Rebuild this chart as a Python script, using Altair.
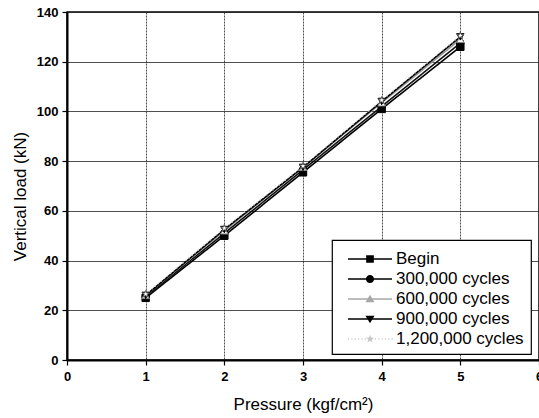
import math
import altair as alt
import pandas as pd

# Vertical load measured at each tyre pressure, after increasing numbers of cycles
pressure = [1, 2, 3, 4, 5]
series_names = ["Begin", "300,000 cycles", "600,000 cycles", "900,000 cycles", "1,200,000 cycles"]
load_begin = [25.0, 50.0, 75.5, 101.0, 126.0]
load_300k = [25.5, 51.0, 76.5, 102.0, 127.5]
load_600k = [26.0, 52.0, 77.5, 103.5, 129.0]
load_900k = [26.0, 52.5, 77.5, 104.0, 130.0]
load_1200k = [26.5, 53.0, 78.0, 104.5, 130.5]

all_loads = [load_begin, load_300k, load_600k, load_900k, load_1200k]
rows = []
for name, loads in zip(series_names, all_loads):
    for p, v in zip(pressure, loads):
        rows.append({"pressure": p, "load": v, "series": name})
df = pd.DataFrame(rows)

# Styling per series
line_colors = ["#000000", "#111111", "#9a9a9a", "#000000", "#cfcfcf"]
line_dash = [[1, 0], [1, 0], [1, 0], [1, 0], [1, 3]]
point_shapes = ["square", "circle", "triangle-up", "triangle-down", "M0,-1L0.235,-0.324L0.951,-0.309L0.38,0.124L0.588,0.809L0,0.4L-0.588,0.809L-0.38,0.124L-0.951,-0.309L-0.235,-0.324Z"]
point_fills = ["#000000", "#000000", "#ffffff", "#000000", "#ffffff"]
point_strokes = ["#000000", "#000000", "#8a8a8a", "#000000", "#555555"]

# Legend glyphs: a horizontal line segment with the marker drawn in the middle.
# Symbol size 576 -> 24 px unit box; the segment reaches beyond it on both sides.
HALF = 1.833   # half length of the segment (units)
T = 0.067      # half thickness of the segment


def seg():
    return f"M{-HALF},{-T}H{HALF}V{T}H{-HALF}Z"


def dotted():
    parts = []
    x = -HALF
    while x < HALF:
        parts.append(f"M{x:.3f},{-T}H{x + 0.09:.3f}V{T}H{x:.3f}Z")
        x += 0.28
    return "".join(parts)


m = 0.32
sq = f"M{-m},{-m}H{m}V{m}H{-m}Z"
r = 0.34
circ = f"M{-r},0A{r},{r} 0 1 1 {r},0A{r},{r} 0 1 1 {-r},0Z"
tri_up = "M0,-0.36L0.38,0.28H-0.38Z"
tri_dn = "M-0.38,-0.28H0.38L0,0.36Z"
star_pts = []
for k in range(10):
    ang = -math.pi / 2 + k * math.pi / 5
    rad = 0.36 if k % 2 == 0 else 0.15
    star_pts.append(f"{rad * math.cos(ang):.3f},{rad * math.sin(ang):.3f}")
star = "M" + "L".join(star_pts) + "Z"
legend_shapes = [seg() + sq, seg() + circ, seg() + tri_up, seg() + tri_dn, dotted() + star]
legend_fills = ["#000000", "#000000", "#a8a8a8", "#000000", "#c8c8c8"]

x_enc = alt.X(
    "pressure:Q",
    scale=alt.Scale(domain=[0, 6], nice=False),
    axis=alt.Axis(
        title="Pressure (kgf/cm²)",
        values=[0, 0.5, 1, 1.5, 2, 2.5, 3, 3.5, 4, 4.5, 5, 5.5, 6],
        labelExpr="datum.value % 1 == 0 ? format(datum.value, 'd') : ''",
        labelFlush=False,
        tickSize=alt.condition("datum.value % 1 != 0", alt.value(3), alt.value(5)),
        gridOpacity=alt.condition("datum.value % 1 != 0", alt.value(0), alt.value(1)),
        gridDash=[2, 1],
        labelPadding=5,
        titlePadding=13,
    ),
)
y_enc = alt.Y(
    "load:Q",
    scale=alt.Scale(domain=[0, 140], nice=False),
    axis=alt.Axis(
        title="Vertical load (kN)",
        values=list(range(0, 141, 10)),
        labelExpr="datum.value % 20 == 0 ? format(datum.value, 'd') : ''",
        labelFlush=False,
        tickSize=alt.condition("datum.value % 20 != 0", alt.value(3), alt.value(5)),
        gridOpacity=alt.condition("datum.value % 20 != 0", alt.value(0), alt.value(1)),
        labelPadding=4,
        titlePadding=7,
        titleY=184,
    ),
)

sort_order = series_names

lines = alt.Chart(df).mark_line(strokeWidth=1.6).encode(
    x=x_enc,
    y=y_enc,
    color=alt.Color("series:N", sort=sort_order, scale=alt.Scale(domain=series_names, range=line_colors), legend=None),
    strokeDash=alt.StrokeDash("series:N", sort=sort_order, scale=alt.Scale(domain=series_names, range=line_dash), legend=None),
    detail="series:N",
)

points = alt.Chart(df).mark_point(filled=True, size=55, strokeWidth=1, opacity=1).encode(
    x="pressure:Q",
    y="load:Q",
    shape=alt.Shape("series:N", sort=sort_order, scale=alt.Scale(domain=series_names, range=point_shapes), legend=None),
    fill=alt.Fill("series:N", sort=sort_order, scale=alt.Scale(domain=series_names, range=point_fills), legend=None),
    stroke=alt.Stroke("series:N", sort=sort_order, scale=alt.Scale(domain=series_names, range=point_strokes), legend=None),
)

legend_layer = alt.Chart(df).mark_point(filled=True, size=576, opacity=0, strokeWidth=0).encode(
    x="pressure:Q",
    y="load:Q",
    shape=alt.Shape(
        "series:N",
        sort=sort_order,
        scale=alt.Scale(domain=series_names, range=legend_shapes),
        legend=alt.Legend(
            title=None,
            orient="none",
            legendX=265,
            legendY=228,
            fillColor="white",
            strokeColor="black",
            padding=7,
            labelFont="Liberation Sans",
            labelFontSize=17,
            labelColor="black",
            symbolSize=576,
            symbolOffset=19,
            labelOffset=14,
            rowPadding=0,
            symbolOpacity=1,
            symbolStrokeWidth=0,
        ),
    ),
    fill=alt.Fill("series:N", sort=sort_order, scale=alt.Scale(domain=series_names, range=legend_fills), legend=None),
)

chart = (
    alt.layer(lines, points, legend_layer)
    .resolve_scale(shape="independent", fill="independent")
    .properties(
        width=472,
        height=348,
        autosize=alt.AutoSizeParams(type="none"),
        padding={"left": 67, "top": 12, "right": 0, "bottom": 58},
        background="white",
    )
    .configure_view(stroke="black", strokeWidth=1.5)
    .configure_legend(strokeWidth=1.2)
    .configure_axis(
        domainColor="black",
        domainWidth=2,
        tickColor="black",
        tickWidth=1.2,
        gridColor="#222222",
        gridWidth=0.8,
        labelFont="Liberation Sans",
        labelFontWeight="bold",
        labelFontSize=13,
        labelColor="black",
        titleFont="Liberation Sans",
        titleFontWeight="normal",
        titleFontSize=17,
        titleColor="black",
    )
)

chart.save("out.html", embed_options={"renderer": "svg", "actions": False})
